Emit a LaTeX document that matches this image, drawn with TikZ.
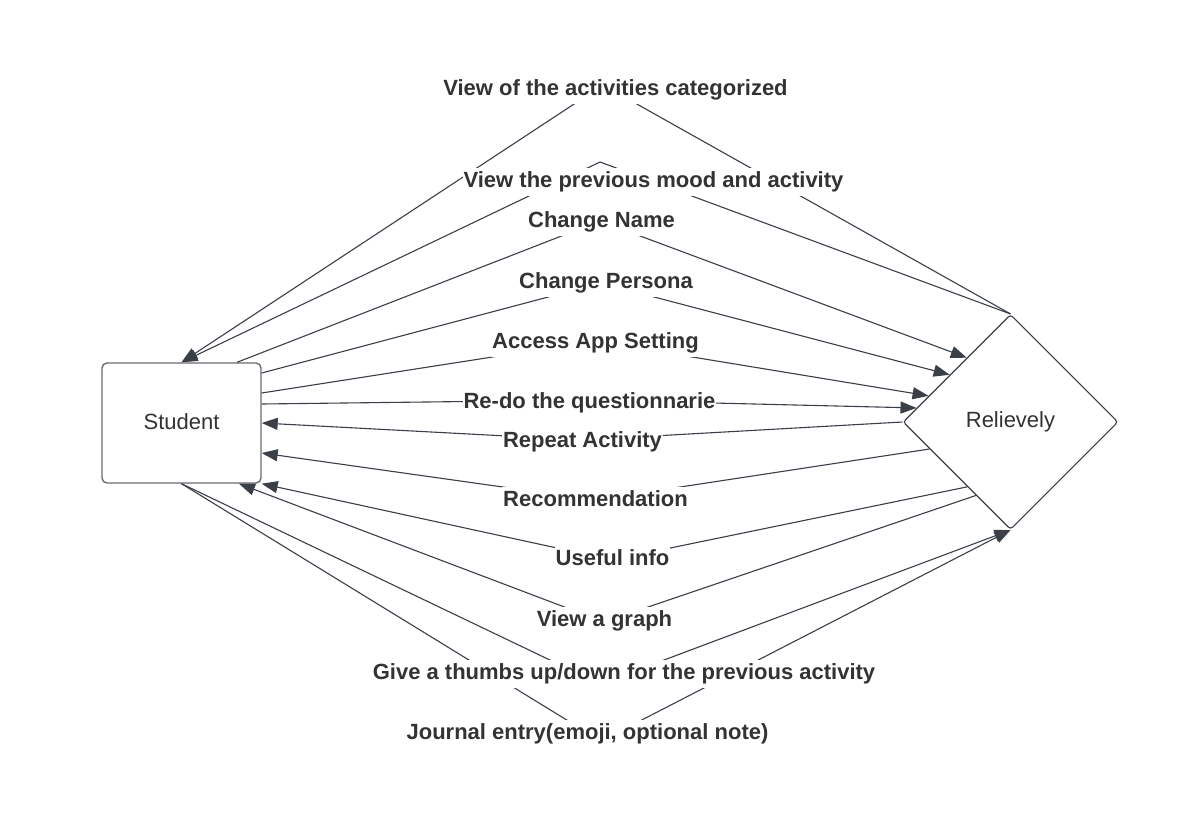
\documentclass[tikz,border=0pt]{standalone}
\usepackage{fontspec}
\setmainfont{Liberation Sans}
\usetikzlibrary{shapes.geometric,arrows.meta,calc}
\definecolor{linec}{RGB}{58,63,72}
\definecolor{txtc}{RGB}{51,51,51}
\definecolor{boxc}{RGB}{105,108,114}
\tikzset{
  conn/.style={draw=linec, line width=1.1pt, -{Triangle[length=16pt,width=12pt]}},
  lbl/.style={font=\bfseries\fontsize{22}{26}\selectfont, text=txtc, fill=white,
    inner xsep=1pt, inner ysep=0pt, text height=19pt, text depth=9pt, anchor=base},
  actor/.style={draw=boxc, line width=1.4pt, rounded corners=5pt, minimum width=159pt,
    minimum height=120pt, inner sep=0pt, font=\fontsize{22}{26}\selectfont, text=txtc},
  sysnode/.style={draw=linec, line width=1.1pt, diamond, rounded corners=3pt, aspect=1,
    minimum width=215pt, minimum height=215pt, inner sep=0pt,
    font=\fontsize{22}{26}\selectfont, text=txtc}
}
\begin{document}
\begin{tikzpicture}[x=1pt,y=-1pt]
\fill[white] (0,0) rectangle (1197,814);
\useasboundingbox (0,0) rectangle (1197,814);

\node[actor] (stu) at (181.5,423) {\raisebox{3pt}{Student}};
\node[sysnode] (rel) at (1010.5,422) {Relievely};

% bend points of the connectors
\coordinate (a1) at (603,85);
\coordinate (a2) at (600,162);
\coordinate (a3) at (600,221);
\coordinate (a4) at (601,283);
\coordinate (a5) at (595,341);
\coordinate (a6) at (590,400);
\coordinate (a7) at (582,440);
\coordinate (a8) at (595,500);
\coordinate (a9) at (612,560);
\coordinate (a10) at (604,622);
\coordinate (a11) at (600,684);
\coordinate (a12) at (601,741);

\draw[conn] (rel.north) -- (a1) -- (stu.north);
\draw[conn] (rel.north) -- (a2) -- (stu.north);
\draw[conn] ($(stu.north)+(55.5,0)$) -- (a3) -- ($(rel.west)!0.595!(rel.north)$);
\draw[conn] ($(stu.east)+(0,-50)$) -- (a4) -- ($(rel.west)!0.437!(rel.north)$);
\draw[conn] ($(stu.east)+(0,-30)$) -- (a5) -- ($(rel.west)!0.242!(rel.north)$);
\draw[conn] ($(stu.east)+(0,-19)$) -- (a6) -- ($(rel.west)!0.13!(rel.north)$);
\draw[conn] (rel.west) -- (a7) -- (stu.east);
\draw[conn] ($(rel.west)!0.25!(rel.south)$) -- (a8) -- ($(stu.east)+(0,30)$);
\draw[conn] ($(rel.west)!0.6!(rel.south)$) -- (a9) -- (stu.south east);
\draw[conn] ($(rel.west)!0.68!(rel.south)$) -- (a10) -- ($(stu.south)+(57.5,0)$);
\draw[conn] (stu.south) -- (a11) -- (rel.south);
\draw[conn] (stu.south) -- (a12) -- (rel.south);

\node[lbl] (l1) at (615.5,95) {View of the activities categorized};
\node[lbl] (l2) at (653.5,187) {View the previous mood and activity};
\node[lbl] (l3) at (601.5,227) {Change Name};
\node[lbl] (l4) at (606,288) {Change Persona};
\node[lbl] (l5) at (595.5,348) {Access App Setting};
\node[lbl] (l6) at (589.5,408) {Re-do the questionnarie};
\node[lbl] (l7) at (582.5,447) {Repeat Activity};
\node[lbl] (l8) at (595.5,506) {Recommendation};
\node[lbl] (l9) at (612.5,565) {Useful info};
\node[lbl] (l10) at (604.5,626) {View a graph};
\node[lbl] (l11) at (624,679) {Give a thumbs up/down for the previous activity};
\node[lbl] (l12) at (587.5,739) {Journal entry(emoji, optional note)};
\end{tikzpicture}
\end{document}
